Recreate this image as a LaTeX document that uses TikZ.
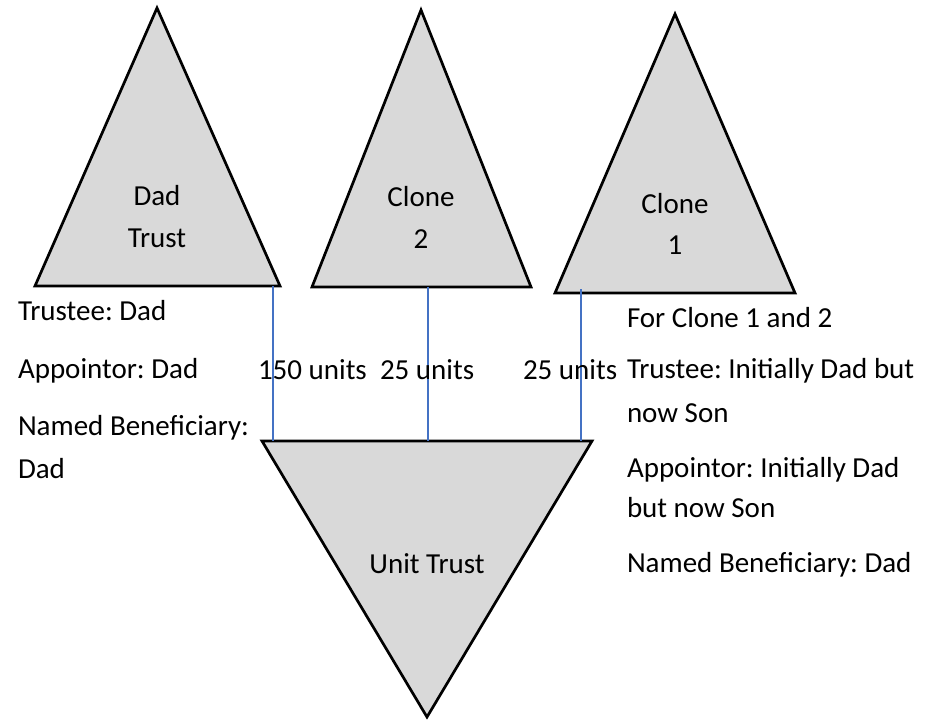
\documentclass[tikz,border=0pt]{standalone}
\usepackage{fontspec}
\setmainfont{Carlito}
\frenchspacing
\definecolor{trifill}{HTML}{D9D9D9}
\definecolor{linkblue}{HTML}{4472C4}
\begin{document}
\begin{tikzpicture}[x=1pt,y=-1pt,
  tri/.style={draw=black,fill=trifill,line width=2.7pt,line join=miter},
  link/.style={draw=linkblue,line width=1.2pt},
  txt/.style={inner sep=0pt,outer sep=0pt,font=\fontsize{29}{35}\selectfont\frenchspacing},
  lbl/.style={txt,anchor=base west},
  ctr/.style={txt,anchor=base}]
\useasboundingbox (0,0) rectangle (926,720);
% triangle vertices
\coordinate (dA) at (157,8);   \coordinate (dL) at (35,286);  \coordinate (dR) at (280,286);
\coordinate (c2A) at (421,10); \coordinate (c2L) at (312,287); \coordinate (c2R) at (531,287);
\coordinate (c1A) at (675,14); \coordinate (c1L) at (555,293); \coordinate (c1R) at (795,293);
\coordinate (uL) at (262,441); \coordinate (uR) at (592,441);  \coordinate (uB) at (427,717);
% link end points
\coordinate (dOut) at (273,286);  \coordinate (uIn1) at (273,441);
\coordinate (c2Out) at (428,287); \coordinate (uIn2) at (428,441);
\coordinate (c1Out) at (581,289); \coordinate (uIn3) at (581,441);
% triangles
\path[tri] (dA) -- (dL) -- (dR) -- cycle;
\path[tri] (c2A) -- (c2L) -- (c2R) -- cycle;
\path[tri] (c1A) -- (c1L) -- (c1R) -- cycle;
\path[tri] (uL) -- (uR) -- (uB) -- cycle;
% links
\draw[link] (dOut) -- (uIn1);
\draw[link] (c2Out) -- (uIn2);
\draw[link] (c1Out) -- (uIn3);
% triangle texts
\node[ctr] (dadT1) at (157,205) {Dad};
\node[ctr] (dadT2) at (157,247) {Trust};
\node[ctr] (c2T1) at (421,206) {Clone};
\node[ctr] (c2T2) at (421,248) {2};
\node[ctr] (c1T1) at (675,213) {Clone};
\node[ctr] (c1T2) at (675,254) {1};
\node[ctr] (utT) at (427,573) {Unit Trust};
% left notes
\node[lbl] (l1) at (18,320) {Trustee: Dad};
\node[lbl] (l2) at (18,378) {Appointor: Dad};
\node[lbl] (l3) at (18,435) {Named Beneficiary:};
\node[lbl] (l4) at (18,478) {Dad};
% unit labels
\node[lbl] (u1) at (258,379) {150 units};
\node[lbl] (u2) at (380,379) {25 units};
\node[lbl] (u3) at (523,379) {25 units};
% right notes
\node[lbl] (r1) at (627,327) {For Clone 1 and 2};
\node[lbl] (r2) at (627,378) {Trustee: Initially Dad but};
\node[lbl] (r3) at (627,422) {now Son};
\node[lbl] (r4) at (627,477) {Appointor: Initially Dad};
\node[lbl] (r5) at (627,517) {but now Son};
\node[lbl] (r6) at (627,572) {Named Beneficiary: Dad};
\end{tikzpicture}
\end{document}
